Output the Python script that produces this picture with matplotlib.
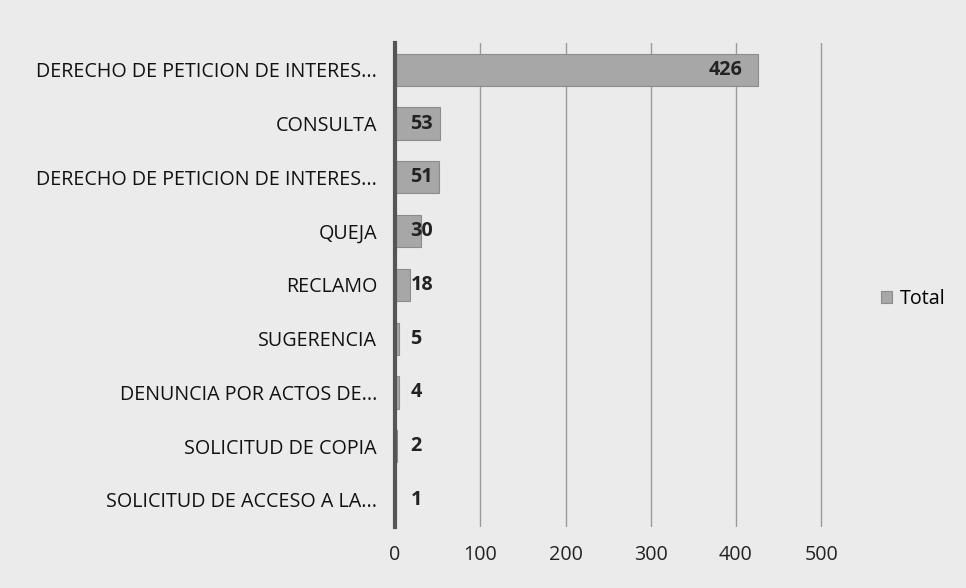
import matplotlib
matplotlib.use("Agg")
import matplotlib.pyplot as plt

categories = [
    "DERECHO DE PETICION DE INTERES...",
    "CONSULTA",
    "DERECHO DE PETICION DE INTERES...",
    "QUEJA",
    "RECLAMO",
    "SUGERENCIA",
    "DENUNCIA POR ACTOS DE...",
    "SOLICITUD DE COPIA",
    "SOLICITUD DE ACCESO A LA...",
]
values = [426, 53, 51, 30, 18, 5, 4, 2, 1]
xticks = [0, 100, 200, 300, 400, 500]
series_name = "Total"

plt.rcParams['font.family'] = ['Open Sans', 'DejaVu Sans']

bg = "#ebebeb"
fs = 14.2
fig = plt.figure(figsize=(9.66, 5.88), dpi=100, facecolor=bg)
ax = fig.add_axes([0.409, 0.104, 0.4428, 0.823])
ax.set_facecolor(bg)

n = len(categories)
ypos = list(range(n))
ax.barh(ypos, values, height=0.6, color="#a7a7a7", edgecolor="#8c8c8c",
        linewidth=0.8, label=series_name, zorder=3)
ax.set_ylim(n - 0.5, -0.5)
ax.set_xlim(0, 502)
ax.set_xticks(xticks)
ax.set_xticklabels([str(t) for t in xticks], fontsize=fs, color="#222222")
ax.set_yticks(ypos)
ax.set_yticklabels(categories, fontsize=fs, color="#111111")
ax.tick_params(axis="both", length=0)
ax.tick_params(axis="y", pad=13)
ax.tick_params(axis="x", pad=13)
ax.grid(axis="x", color="#9a9a9a", linewidth=1.0, zorder=0)
for s in ["top", "right", "bottom"]:
    ax.spines[s].set_visible(False)
ax.spines["left"].set_color("#555555")
ax.spines["left"].set_linewidth(3)
ax.spines["left"].set_zorder(4)

for i, v in enumerate(values):
    if v > 100:
        ax.annotate(str(v), xy=(v, i), xytext=(-11, 0), textcoords="offset points",
                    ha="right", va="center", fontsize=fs, fontweight="bold",
                    color="#222222", zorder=5)
    else:
        ax.annotate(str(v), xy=(0, i), xytext=(11, 0), textcoords="offset points",
                    ha="left", va="center", fontsize=fs, fontweight="bold",
                    color="#222222", zorder=5)

leg = ax.legend(loc="center left", bbox_to_anchor=(1.095, 0.47), frameon=False,
                fontsize=fs, handlelength=0.55, handleheight=0.55, handletextpad=0.4)
for h in leg.legend_handles:
    h.set_edgecolor("#8c8c8c")

fig.savefig("out.png", dpi=100, facecolor=bg)
